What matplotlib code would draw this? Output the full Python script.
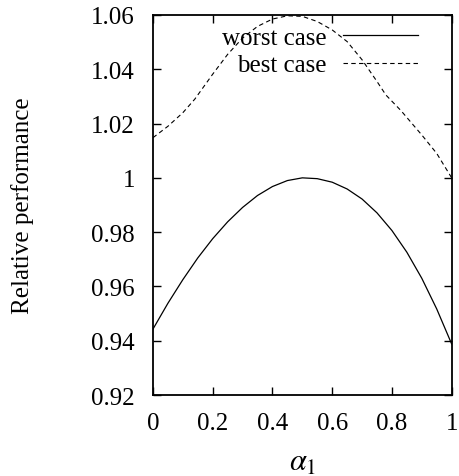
import matplotlib
matplotlib.use("Agg")
import matplotlib.pyplot as plt
from matplotlib.ticker import FuncFormatter

plt.rcParams['font.family'] = ['Liberation Serif', 'DejaVu Serif']
plt.rcParams['mathtext.fontset'] = 'stix'

# worst case (solid)
worst_x = [0, 0.05, 0.1, 0.15, 0.2, 0.25, 0.3, 0.35, 0.4, 0.45, 0.5,
           0.55, 0.6, 0.65, 0.7, 0.75, 0.8, 0.85, 0.9, 0.95, 1.0]
worst_y = [0.9443, 0.9538, 0.9625, 0.9705, 0.9776, 0.9838, 0.9891, 0.9935, 0.9968, 0.9990, 1.0000,
           0.9997, 0.9984, 0.9959, 0.9922, 0.9871, 0.9806, 0.9726, 0.9630, 0.9517, 0.9388]

# best case (dashed)
best_x = [0, 0.05, 0.1, 0.14, 0.2, 0.25, 0.3, 0.35, 0.4, 0.45, 0.5,
          0.55, 0.6, 0.65, 0.7, 0.75, 0.78, 0.83, 0.9, 0.95, 1.0]
best_y = [1.0148, 1.0190, 1.0240, 1.0290, 1.0382, 1.0455, 1.0515, 1.0558, 1.0585, 1.0597, 1.0595,
          1.0576, 1.0545, 1.0502, 1.0435, 1.0355, 1.0305, 1.0248, 1.0158, 1.0090, 1.0000]

xticks = [0, 0.2, 0.4, 0.6, 0.8, 1]
yticks = [0.92, 0.94, 0.96, 0.98, 1.0, 1.02, 1.04, 1.06]

fig = plt.figure(figsize=(4.59, 4.77), dpi=100)
ax = fig.add_axes([0.3333, 0.1698, 0.6507, 0.7967])

ax.plot(worst_x, worst_y, color='black', lw=0.9, label='worst case')
ax.plot(best_x, best_y, color='black', lw=0.8, dashes=(4, 3), label='best case')

ax.set_xlim(0, 1)
ax.set_ylim(0.92, 1.06)
ax.set_xticks(xticks)
ax.set_yticks(yticks)
fmt = FuncFormatter(lambda v, p: '%g' % round(v, 2))
ax.xaxis.set_major_formatter(fmt)
ax.yaxis.set_major_formatter(fmt)
ax.tick_params(direction='in', length=6, width=1.0, labelsize=18,
               top=True, right=True)
ax.tick_params(axis='x', pad=12)
ax.tick_params(axis='y', pad=13)
for s in ax.spines.values():
    s.set_linewidth(1.3)

ax.set_xlabel(r'$\alpha_1$', fontsize=22, labelpad=10)
ax.set_ylabel('Relative performance', fontsize=18, labelpad=41)

ax.legend(loc='upper right', bbox_to_anchor=(0.887, 0.97), frameon=False,
          markerfirst=False, fontsize=18, handlelength=3.0, handletextpad=0.65,
          labelspacing=0.2, borderpad=0, borderaxespad=0)

fig.savefig('out.png', dpi=100)
